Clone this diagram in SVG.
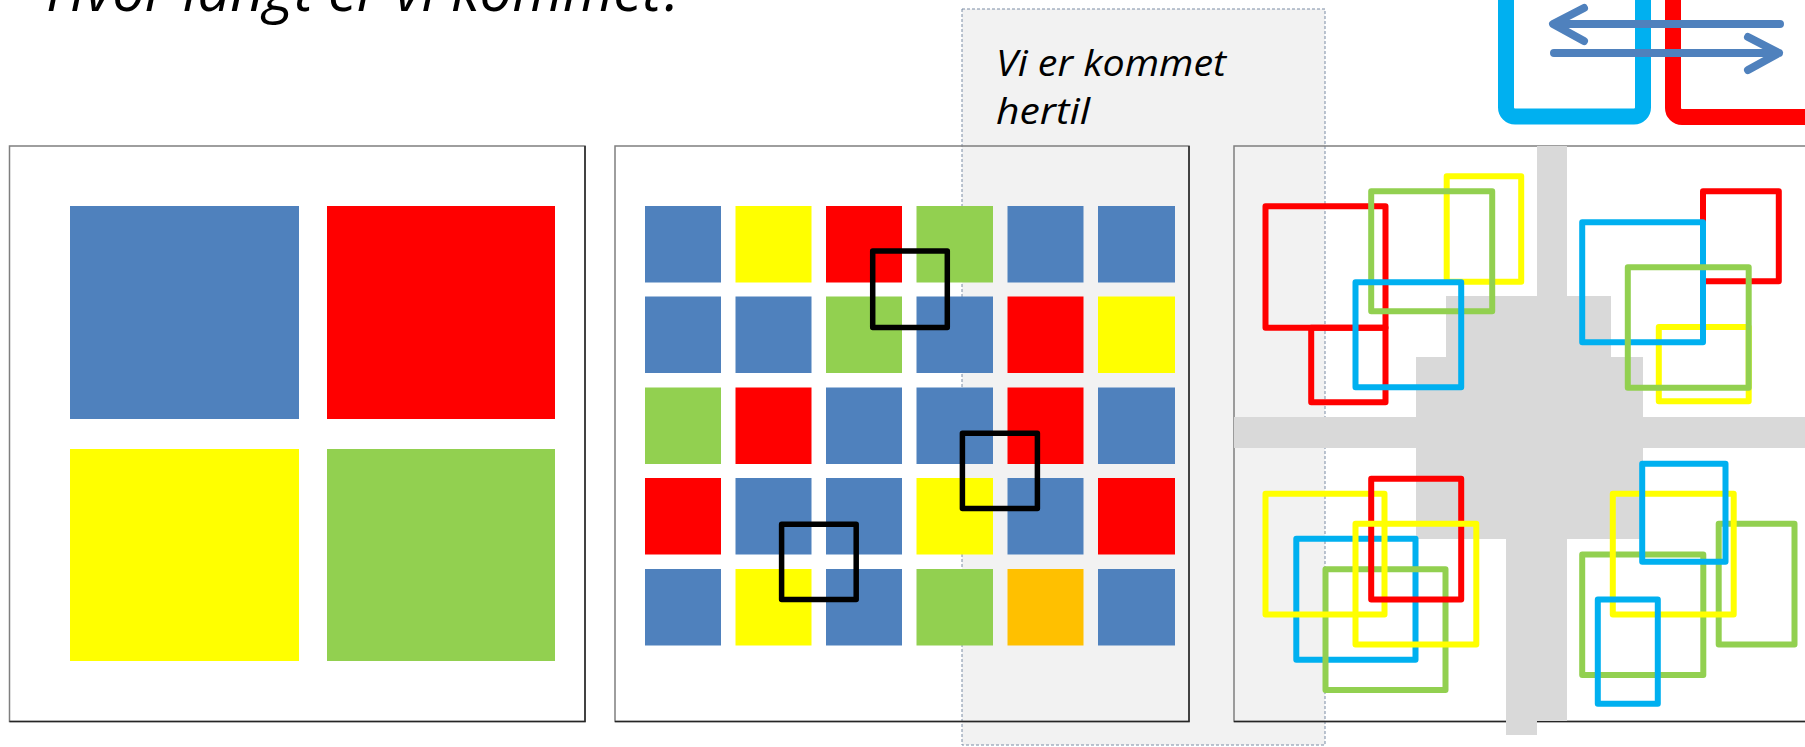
<svg xmlns="http://www.w3.org/2000/svg" width="1805" height="747" viewBox="0 0 1805 747">
<style>
.ttl{font-family:"Open Sans","Liberation Sans",sans-serif;font-style:italic;fill:#000}
.panel{fill:none;stroke:#7f7f7f;stroke-width:1.5}
.shade{stroke:#262626;stroke-width:1.5;fill:none}
.b{fill:#4F81BD}.r{fill:#FF0000}.y{fill:#FFFF00}.g{fill:#92D050}.o{fill:#FFC000}
.sel{fill:none;stroke:#000;stroke-width:5.5;stroke-linejoin:round}
.ol{fill:none;stroke-width:6;stroke-linejoin:round}
.oR{stroke:#FF0000}.oG{stroke:#92D050}.oY{stroke:#FFFF00}.oB{stroke:#00B0F0}
.arr{fill:none;stroke:#4F81BD;stroke-width:8;stroke-linecap:round;stroke-linejoin:round}
</style>
<rect width="1805" height="747" fill="#fff"/>

<g id="title">
<text class="ttl" x="46" y="11" font-size="58" textLength="640" lengthAdjust="spacingAndGlyphs">Hvor langt er vi kommet?</text>
</g>

<g id="here-box">
<rect x="962" y="9" width="363" height="736" fill="#F2F2F2" stroke="#7A8CA5" stroke-width="1" stroke-dasharray="3 2"/>
</g>

<g id="here-label">
<text class="ttl" x="996" y="76" font-size="36" textLength="230" lengthAdjust="spacingAndGlyphs">Vi er kommet</text>
<text class="ttl" x="996" y="124" font-size="36" textLength="94" lengthAdjust="spacingAndGlyphs">hertil</text>
</g>

<g id="icon">
<rect x="1506" y="-40" width="137" height="156.5" rx="9" fill="none" stroke="#00B0F0" stroke-width="16"/>
<rect x="1673" y="-40" width="200" height="157" rx="9" fill="none" stroke="#FF0000" stroke-width="16"/>
</g>

<g id="panel-1">
<rect class="panel" x="9.5" y="146" width="575.5" height="575.5"/>
<path class="shade" d="M585,146 V721.5 H9.5"/>
<rect class="b" x="70" y="206" width="229" height="213"/>
<rect class="r" x="327" y="206" width="228" height="213"/>
<rect class="y" x="70" y="449" width="229" height="212"/>
<rect class="g" x="327" y="449" width="228" height="212"/>
</g>

<g id="panel-2">
<rect class="panel" x="615" y="146" width="574" height="575.5"/>
<path class="shade" d="M1189,146 V721.5 H615"/>
<rect class="b" x="645" y="206" width="76" height="76.5"/>
<rect class="y" x="735.5" y="206" width="76" height="76.5"/>
<rect class="r" x="826" y="206" width="76" height="76.5"/>
<rect class="g" x="916.5" y="206" width="76.5" height="76.5"/>
<rect class="b" x="1007.5" y="206" width="76" height="76.5"/>
<rect class="b" x="1098" y="206" width="77" height="76.5"/>

<rect class="b" x="645" y="296.5" width="76" height="76.5"/>
<rect class="b" x="735.5" y="296.5" width="76" height="76.5"/>
<rect class="g" x="826" y="296.5" width="76" height="76.5"/>
<rect class="b" x="916.5" y="296.5" width="76.5" height="76.5"/>
<rect class="r" x="1007.5" y="296.5" width="76" height="76.5"/>
<rect class="y" x="1098" y="296.5" width="77" height="76.5"/>

<rect class="g" x="645" y="387.5" width="76" height="76.5"/>
<rect class="r" x="735.5" y="387.5" width="76" height="76.5"/>
<rect class="b" x="826" y="387.5" width="76" height="76.5"/>
<rect class="b" x="916.5" y="387.5" width="76.5" height="76.5"/>
<rect class="r" x="1007.5" y="387.5" width="76" height="76.5"/>
<rect class="b" x="1098" y="387.5" width="77" height="76.5"/>

<rect class="r" x="645" y="478" width="76" height="76.5"/>
<rect class="b" x="735.5" y="478" width="76" height="76.5"/>
<rect class="b" x="826" y="478" width="76" height="76.5"/>
<rect class="y" x="916.5" y="478" width="76.5" height="76.5"/>
<rect class="b" x="1007.5" y="478" width="76" height="76.5"/>
<rect class="r" x="1098" y="478" width="77" height="76.5"/>

<rect class="b" x="645" y="569" width="76" height="76.5"/>
<rect class="y" x="735.5" y="569" width="76" height="76.5"/>
<rect class="b" x="826" y="569" width="76" height="76.5"/>
<rect class="g" x="916.5" y="569" width="76.5" height="76.5"/>
<rect class="o" x="1007.5" y="569" width="76" height="76.5"/>
<rect class="b" x="1098" y="569" width="77" height="76.5"/>

<rect class="sel" x="872.7" y="251" width="74.6" height="76.5"/>
<rect class="sel" x="962.4" y="433.2" width="75" height="75.3"/>
<rect class="sel" x="781.6" y="524.2" width="74.6" height="75.3"/>
</g>

<g id="panel-3">
<path class="panel" d="M1805,146 H1234 V721.5 H1805"/>
<path class="shade" d="M1234,721.5 H1805"/>
<polygon fill="#D9D9D9" points="1537,146 1567,146 1567,296 1611,296 1611,357 1643,357 1643,417 1805,417 1805,448 1643,448 1643,539 1567,539 1567,721 1537,721 1537,735 1506,735 1506,539 1416,539 1416,448 1234,448 1234,417 1416,417 1416,357 1446,357 1446,296 1537,296"/>

<rect class="ol oR" x="1265.5" y="206.2" width="120" height="121.6"/>
<rect class="ol oR" x="1311.2" y="327.8" width="74.3" height="74.4"/>
<rect class="ol oY" x="1446.7" y="176.2" width="74.5" height="105.6"/>
<rect class="ol oG" x="1371.2" y="191.3" width="121" height="120"/>
<rect class="ol oB" x="1355.5" y="282.2" width="105.7" height="105"/>

<rect class="ol oR" x="1703" y="191.2" width="75.8" height="90"/>
<rect class="ol oY" x="1658.8" y="327" width="89.9" height="74.2"/>
<rect class="ol oB" x="1582.2" y="222.2" width="120.8" height="120"/>
<rect class="ol oG" x="1627.8" y="267.2" width="120.9" height="120.6"/>

<rect class="ol oB" x="1296.3" y="538.8" width="119.2" height="120.9"/>
<rect class="ol oG" x="1325.5" y="569.2" width="120" height="120.8"/>
<rect class="ol oY" x="1265.5" y="493.7" width="119" height="120.8"/>
<rect class="ol oR" x="1371.2" y="478.8" width="90" height="120.7"/>
<rect class="ol oY" x="1355.5" y="523.7" width="120.8" height="120.8"/>

<rect class="ol oG" x="1582.2" y="554.5" width="121.1" height="120.5"/>
<rect class="ol oG" x="1718.7" y="523.8" width="75.8" height="120.7"/>
<rect class="ol oY" x="1612.8" y="493.8" width="120.9" height="120.7"/>
<rect class="ol oB" x="1642.2" y="463.8" width="83.3" height="97.9"/>
<rect class="ol oB" x="1597.8" y="599.5" width="60" height="104.3"/>
</g>

<g id="connectors">
<path class="arr" d="M1780,24 H1554 M1584,8 L1553,24 L1584,41"/>
<path class="arr" d="M1554,53 H1779 M1748,37 L1779,53 L1748,70"/>
</g>
</svg>
